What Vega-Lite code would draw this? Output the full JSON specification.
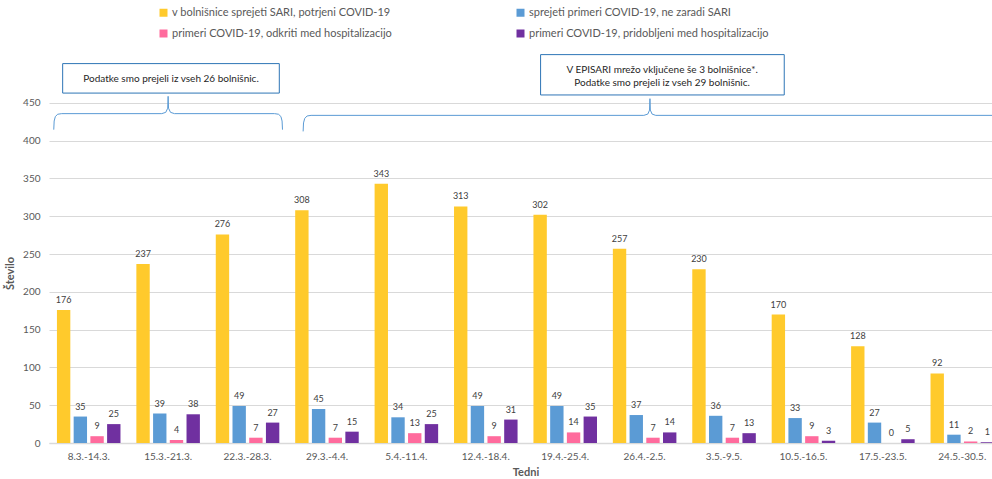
{
  "$schema": "https://vega.github.io/schema/vega-lite/v6.json",
  "autosize": "none",
  "padding": {"left": 49, "top": 50, "right": 0, "bottom": 36},
  "width": 943,
  "height": 393,
  "config": {"font": "Lato", "view": {"stroke": null}},
  "data": {"values": [
    {"week": "8.3.-14.3.", "series": "v bolnišnice sprejeti SARI, potrjeni COVID-19", "value": 176},
    {"week": "8.3.-14.3.", "series": "sprejeti primeri COVID-19, ne zaradi SARI", "value": 35},
    {"week": "8.3.-14.3.", "series": "primeri COVID-19, odkriti med hospitalizacijo", "value": 9},
    {"week": "8.3.-14.3.", "series": "primeri COVID-19, pridobljeni med hospitalizacijo", "value": 25},
    {"week": "15.3.-21.3.", "series": "v bolnišnice sprejeti SARI, potrjeni COVID-19", "value": 237},
    {"week": "15.3.-21.3.", "series": "sprejeti primeri COVID-19, ne zaradi SARI", "value": 39},
    {"week": "15.3.-21.3.", "series": "primeri COVID-19, odkriti med hospitalizacijo", "value": 4},
    {"week": "15.3.-21.3.", "series": "primeri COVID-19, pridobljeni med hospitalizacijo", "value": 38},
    {"week": "22.3.-28.3.", "series": "v bolnišnice sprejeti SARI, potrjeni COVID-19", "value": 276},
    {"week": "22.3.-28.3.", "series": "sprejeti primeri COVID-19, ne zaradi SARI", "value": 49},
    {"week": "22.3.-28.3.", "series": "primeri COVID-19, odkriti med hospitalizacijo", "value": 7},
    {"week": "22.3.-28.3.", "series": "primeri COVID-19, pridobljeni med hospitalizacijo", "value": 27},
    {"week": "29.3.-4.4.", "series": "v bolnišnice sprejeti SARI, potrjeni COVID-19", "value": 308},
    {"week": "29.3.-4.4.", "series": "sprejeti primeri COVID-19, ne zaradi SARI", "value": 45},
    {"week": "29.3.-4.4.", "series": "primeri COVID-19, odkriti med hospitalizacijo", "value": 7},
    {"week": "29.3.-4.4.", "series": "primeri COVID-19, pridobljeni med hospitalizacijo", "value": 15},
    {"week": "5.4.-11.4.", "series": "v bolnišnice sprejeti SARI, potrjeni COVID-19", "value": 343},
    {"week": "5.4.-11.4.", "series": "sprejeti primeri COVID-19, ne zaradi SARI", "value": 34},
    {"week": "5.4.-11.4.", "series": "primeri COVID-19, odkriti med hospitalizacijo", "value": 13},
    {"week": "5.4.-11.4.", "series": "primeri COVID-19, pridobljeni med hospitalizacijo", "value": 25},
    {"week": "12.4.-18.4.", "series": "v bolnišnice sprejeti SARI, potrjeni COVID-19", "value": 313},
    {"week": "12.4.-18.4.", "series": "sprejeti primeri COVID-19, ne zaradi SARI", "value": 49},
    {"week": "12.4.-18.4.", "series": "primeri COVID-19, odkriti med hospitalizacijo", "value": 9},
    {"week": "12.4.-18.4.", "series": "primeri COVID-19, pridobljeni med hospitalizacijo", "value": 31},
    {"week": "19.4.-25.4.", "series": "v bolnišnice sprejeti SARI, potrjeni COVID-19", "value": 302},
    {"week": "19.4.-25.4.", "series": "sprejeti primeri COVID-19, ne zaradi SARI", "value": 49},
    {"week": "19.4.-25.4.", "series": "primeri COVID-19, odkriti med hospitalizacijo", "value": 14},
    {"week": "19.4.-25.4.", "series": "primeri COVID-19, pridobljeni med hospitalizacijo", "value": 35},
    {"week": "26.4.-2.5.", "series": "v bolnišnice sprejeti SARI, potrjeni COVID-19", "value": 257},
    {"week": "26.4.-2.5.", "series": "sprejeti primeri COVID-19, ne zaradi SARI", "value": 37},
    {"week": "26.4.-2.5.", "series": "primeri COVID-19, odkriti med hospitalizacijo", "value": 7},
    {"week": "26.4.-2.5.", "series": "primeri COVID-19, pridobljeni med hospitalizacijo", "value": 14},
    {"week": "3.5.-9.5.", "series": "v bolnišnice sprejeti SARI, potrjeni COVID-19", "value": 230},
    {"week": "3.5.-9.5.", "series": "sprejeti primeri COVID-19, ne zaradi SARI", "value": 36},
    {"week": "3.5.-9.5.", "series": "primeri COVID-19, odkriti med hospitalizacijo", "value": 7},
    {"week": "3.5.-9.5.", "series": "primeri COVID-19, pridobljeni med hospitalizacijo", "value": 13},
    {"week": "10.5.-16.5.", "series": "v bolnišnice sprejeti SARI, potrjeni COVID-19", "value": 170},
    {"week": "10.5.-16.5.", "series": "sprejeti primeri COVID-19, ne zaradi SARI", "value": 33},
    {"week": "10.5.-16.5.", "series": "primeri COVID-19, odkriti med hospitalizacijo", "value": 9},
    {"week": "10.5.-16.5.", "series": "primeri COVID-19, pridobljeni med hospitalizacijo", "value": 3},
    {"week": "17.5.-23.5.", "series": "v bolnišnice sprejeti SARI, potrjeni COVID-19", "value": 128},
    {"week": "17.5.-23.5.", "series": "sprejeti primeri COVID-19, ne zaradi SARI", "value": 27},
    {"week": "17.5.-23.5.", "series": "primeri COVID-19, odkriti med hospitalizacijo", "value": 0},
    {"week": "17.5.-23.5.", "series": "primeri COVID-19, pridobljeni med hospitalizacijo", "value": 5},
    {"week": "24.5.-30.5.", "series": "v bolnišnice sprejeti SARI, potrjeni COVID-19", "value": 92},
    {"week": "24.5.-30.5.", "series": "sprejeti primeri COVID-19, ne zaradi SARI", "value": 11},
    {"week": "24.5.-30.5.", "series": "primeri COVID-19, odkriti med hospitalizacijo", "value": 2},
    {"week": "24.5.-30.5.", "series": "primeri COVID-19, pridobljeni med hospitalizacijo", "value": 1}
  ]},
  "encoding": {
    "y": {
      "field": "value", "type": "quantitative",
      "scale": {"domain": [0, 520], "nice": false, "zero": true},
      "axis": {
        "values": [0, 50, 100, 150, 200, 250, 300, 350, 400, 450],
        "grid": true, "gridColor": "#D9D9D9", "gridWidth": 1,
        "domain": false, "ticks": false,
        "labelColor": "#595959", "labelFontSize": 10, "labelPadding": 9,
        "title": "Število", "titleColor": "#595959", "titleFontSize": 11, "titleFontWeight": "bold",
        "titleX": -34, "titleY": 223, "titleAlign": "center", "titleAngle": -90
      }
    }
  },
  "layer": [
    {
      "mark": {"type": "bar"},
      "encoding": {
        "x": {
          "field": "week", "type": "nominal",
          "sort": ["8.3.-14.3.", "15.3.-21.3.", "22.3.-28.3.", "29.3.-4.4.", "5.4.-11.4.", "12.4.-18.4.", "19.4.-25.4.", "26.4.-2.5.", "3.5.-9.5.", "10.5.-16.5.", "17.5.-23.5.", "24.5.-30.5."],
          "scale": {"range": [0, 953], "paddingInner": 0.2, "paddingOuter": 0.1},
          "axis": {
            "labelAngle": 0, "ticks": false, "domainColor": "#D9D9D9", "domainWidth": 1.5,
            "labelColor": "#595959", "labelFontSize": 10, "labelPadding": 8,
            "title": "Tedni", "titleColor": "#595959", "titleFontSize": 11, "titleFontWeight": "bold", "titlePadding": 5
          }
        },
        "xOffset": {
          "field": "series", "type": "nominal",
          "sort": ["v bolnišnice sprejeti SARI, potrjeni COVID-19", "sprejeti primeri COVID-19, ne zaradi SARI", "primeri COVID-19, odkriti med hospitalizacijo", "primeri COVID-19, pridobljeni med hospitalizacijo"],
          "scale": {"paddingInner": 0.2, "paddingOuter": 0}
        },
        "color": {
          "field": "series", "type": "nominal",
          "scale": {
            "domain": ["v bolnišnice sprejeti SARI, potrjeni COVID-19", "sprejeti primeri COVID-19, ne zaradi SARI", "primeri COVID-19, odkriti med hospitalizacijo", "primeri COVID-19, pridobljeni med hospitalizacijo"],
            "range": ["#FFCA2C", "#5B9BD5", "#FF6B9D", "#7030A0"]
          },
          "legend": {
            "orient": "none", "legendX": 109, "legendY": -43, "columns": 2, "columnPadding": 123,
            "values": ["v bolnišnice sprejeti SARI, potrjeni COVID-19", "primeri COVID-19, odkriti med hospitalizacijo", "sprejeti primeri COVID-19, ne zaradi SARI", "primeri COVID-19, pridobljeni med hospitalizacijo"],
            "rowPadding": 9, "title": null, "symbolType": "square", "symbolSize": 64, "symbolStrokeWidth": 0,
            "labelFontSize": 11, "labelColor": "#595959", "labelLimit": 400, "labelOffset": 3
          }
        }
      }
    },
    {
      "mark": {"type": "text", "fontSize": 9, "color": "#404040", "baseline": "alphabetic", "dy": -7},
      "encoding": {
        "x": {
          "field": "week", "type": "nominal",
          "sort": ["8.3.-14.3.", "15.3.-21.3.", "22.3.-28.3.", "29.3.-4.4.", "5.4.-11.4.", "12.4.-18.4.", "19.4.-25.4.", "26.4.-2.5.", "3.5.-9.5.", "10.5.-16.5.", "17.5.-23.5.", "24.5.-30.5."],
          "scale": {"range": [0, 953], "paddingInner": 0.2, "paddingOuter": 0.1},
          "axis": null
        },
        "xOffset": {
          "field": "series", "type": "nominal",
          "sort": ["v bolnišnice sprejeti SARI, potrjeni COVID-19", "sprejeti primeri COVID-19, ne zaradi SARI", "primeri COVID-19, odkriti med hospitalizacijo", "primeri COVID-19, pridobljeni med hospitalizacijo"],
          "scale": {"paddingInner": 0.2, "paddingOuter": 0}
        },
        "text": {"field": "value", "type": "quantitative"}
      }
    },
    {
      "data": {"values": [
        {"b": 1, "i": 0, "u": 0.06, "value": 414.6},
        {"b": 1, "i": 1, "u": 0.065, "value": 426},
        {"b": 1, "i": 2, "u": 0.08, "value": 432},
        {"b": 1, "i": 3, "u": 0.11, "value": 435},
        {"b": 1, "i": 4, "u": 0.16, "value": 435.8},
        {"b": 1, "i": 5, "u": 1.42, "value": 435.8},
        {"b": 1, "i": 6, "u": 1.47, "value": 437.5},
        {"b": 1, "i": 7, "u": 1.495, "value": 443},
        {"b": 1, "i": 8, "u": 1.5, "value": 458.7},
        {"b": 1, "i": 9, "u": 1.505, "value": 443},
        {"b": 1, "i": 10, "u": 1.53, "value": 437.5},
        {"b": 1, "i": 11, "u": 1.58, "value": 435.8},
        {"b": 1, "i": 12, "u": 2.84, "value": 435.8},
        {"b": 1, "i": 13, "u": 2.89, "value": 435},
        {"b": 1, "i": 14, "u": 2.92, "value": 432},
        {"b": 1, "i": 15, "u": 2.935, "value": 426},
        {"b": 1, "i": 16, "u": 2.94, "value": 414.6},
        {"b": 2, "i": 0, "u": 3.2, "value": 412.3},
        {"b": 2, "i": 1, "u": 3.205, "value": 423.5},
        {"b": 2, "i": 2, "u": 3.22, "value": 429.5},
        {"b": 2, "i": 3, "u": 3.25, "value": 432.7},
        {"b": 2, "i": 4, "u": 3.3, "value": 433.5},
        {"b": 2, "i": 5, "u": 7.49, "value": 433.5},
        {"b": 2, "i": 6, "u": 7.54, "value": 435.2},
        {"b": 2, "i": 7, "u": 7.562, "value": 440.5},
        {"b": 2, "i": 8, "u": 7.567, "value": 455.6},
        {"b": 2, "i": 9, "u": 7.572, "value": 440.5},
        {"b": 2, "i": 10, "u": 7.594, "value": 435.2},
        {"b": 2, "i": 11, "u": 7.64, "value": 433.5},
        {"b": 2, "i": 12, "u": 12.2, "value": 433.5}
      ]},
      "mark": {"type": "line", "color": "#5B9BD5", "strokeWidth": 1, "interpolate": "linear"},
      "encoding": {
        "x": {"field": "u", "type": "quantitative", "scale": {"domain": [0, 12], "range": [0, 953], "nice": false, "zero": false}, "axis": null},
        "detail": {"field": "b", "type": "nominal"},
        "order": {"field": "i", "type": "quantitative"}
      }
    },
    {
      "data": {"values": [
        {"u": 0.172, "u2": 2.9, "value": 463, "value2": 502},
        {"u": 6.19, "u2": 9.258, "value": 460.5, "value2": 513.9}
      ]},
      "mark": {"type": "rect", "fill": "white", "stroke": "#2E75B6", "strokeWidth": 1},
      "encoding": {
        "x": {"field": "u", "type": "quantitative", "scale": {"domain": [0, 12], "range": [0, 953], "nice": false, "zero": false}, "axis": null},
        "x2": {"field": "u2"},
        "y2": {"field": "value2"}
      }
    },
    {
      "data": {"values": [
        {"u": 1.536, "value": 481.7, "t": "Podatke smo prejeli iz vseh 26 bolnišnic."},
        {"u": 7.72, "value": 494, "t": "V EPISARI mrežo vključene še 3 bolnišnice*."},
        {"u": 7.72, "value": 476.4, "t": "Podatke smo prejeli iz vseh 29 bolnišnic."}
      ]},
      "mark": {"type": "text", "fontSize": 10, "color": "#262626", "baseline": "middle", "align": "center"},
      "encoding": {
        "x": {"field": "u", "type": "quantitative", "scale": {"domain": [0, 12], "range": [0, 953], "nice": false, "zero": false}, "axis": null},
        "text": {"field": "t", "type": "nominal"}
      }
    }
  ],
  "resolve": {"scale": {"x": "independent"}}
}
